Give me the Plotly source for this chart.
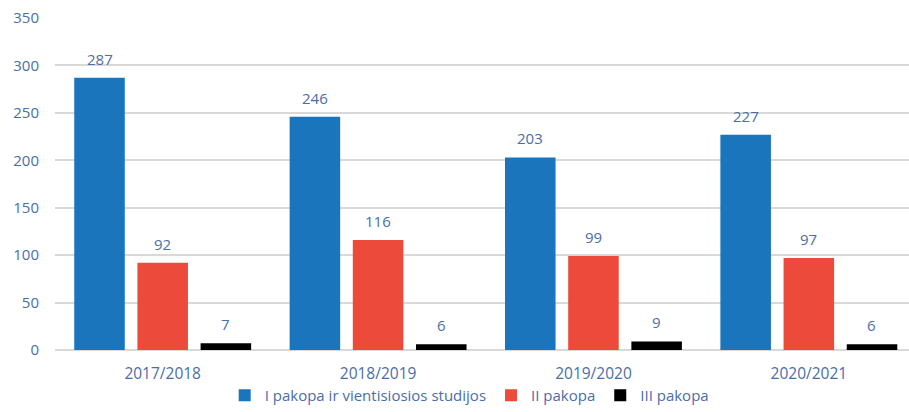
import plotly.graph_objects as go

categories = ["2017/2018", "2018/2019", "2019/2020", "2020/2021"]
series_names = ["I pakopa ir vientisiosios studijos", "II pakopa", "III pakopa"]
pakopa1 = [287, 246, 203, 227]
pakopa2 = [92, 116, 99, 97]
pakopa3 = [7, 6, 9, 6]
y_ticks = [0, 50, 100, 150, 200, 250, 300, 350]

colors = ["#1a75bd", "#ec4b3c", "#000000"]
label_color = "#4a6ea8"
font_family = "Open Sans, Lato, sans-serif"

fig = go.Figure()
all_series = [pakopa1, pakopa2, pakopa3]
for name, vals, col in zip(series_names, all_series, colors):
    fig.add_trace(go.Bar(x=categories, y=vals, name=name, marker_color=col,
                         marker_line_width=0))

shifts = [-63, 0, 63]
for vals, sh in zip(all_series, shifts):
    for c, v in zip(categories, vals):
        fig.add_annotation(x=c, y=v, text=str(v), showarrow=False,
                           xshift=sh, yshift=7, yanchor="bottom",
                           font=dict(size=15, color=label_color, family=font_family))

fig.update_layout(
    width=909, height=412,
    margin=dict(l=55, r=0, t=18, b=62, autoexpand=False),
    plot_bgcolor="white", paper_bgcolor="white",
    barmode="group", bargap=0.12, bargroupgap=0.2,
    font=dict(family=font_family, color=label_color, size=15),
    legend=dict(orientation="h", x=0.485, xanchor="center", yref="container",
                y=0.0, yanchor="bottom",
                font=dict(size=15, color=label_color), itemwidth=30,
                traceorder="normal"),
    showlegend=True,
)
fig.update_xaxes(range=[-0.5, 3.465], showgrid=False, showline=False, ticks="",
                 tickfont=dict(size=15.5, color=label_color), ticklabelstandoff=12)
fig.update_yaxes(range=[0, 350], tickvals=y_ticks, showgrid=True, gridcolor="#d9d9d9",
                 gridwidth=1.5, zeroline=True, zerolinecolor="#d9d9d9", zerolinewidth=1.5,
                 tickfont=dict(size=15, color=label_color), ticks="", ticklabelstandoff=15)

fig.write_html("out.html", config={"displayModeBar": False},
               post_script="document.body.style.margin='0';document.body.style.padding='0';")
